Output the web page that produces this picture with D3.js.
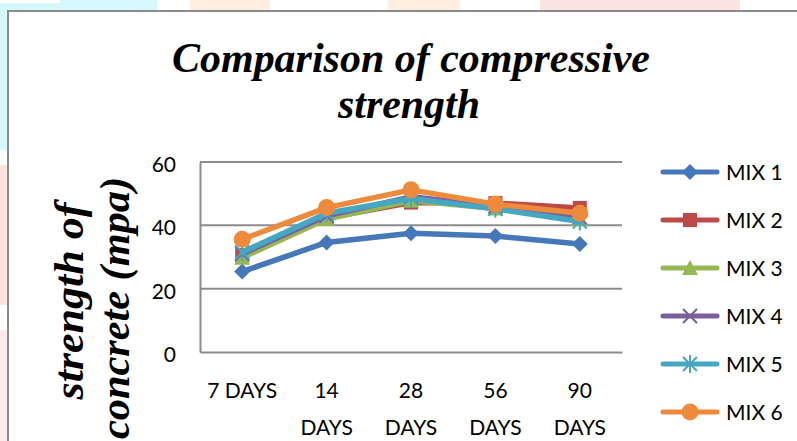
<!DOCTYPE html>
<html>
<head>
<meta charset="utf-8">
<script src="https://cdn.jsdelivr.net/npm/d3@7"></script>
<style>
  html, body { margin: 0; padding: 0; background: #fff; }
  svg { display: block; }
</style>
</head>
<body>
<svg id="chart" width="797" height="441"></svg>
<script>
// Compressive strength (MPa) by curing age for six concrete mixes
const categories = ["7 DAYS", "14 DAYS", "28 DAYS", "56 DAYS", "90 DAYS"];
const tickLines = [["7 DAYS"], ["14", "DAYS"], ["28", "DAYS"], ["56", "DAYS"], ["90", "DAYS"]];
const seriesNames = ["MIX 1", "MIX 2", "MIX 3", "MIX 4", "MIX 5", "MIX 6"];
const mix1 = [25.4, 34.6, 37.5, 36.6, 34.1];
const mix2 = [30.6, 42.3, 47.2, 47.0, 45.5];
const mix3 = [29.8, 42.0, 47.8, 45.3, 42.0];
const mix4 = [31.0, 43.0, 49.0, 46.0, 42.5];
const mix5 = [31.5, 43.8, 48.5, 45.2, 41.2];
const mix6 = [35.6, 45.6, 51.2, 46.7, 43.8];
const yTicks = [0, 20, 40, 60];

const seriesValues = [mix1, mix2, mix3, mix4, mix5, mix6];
const colors = ["#4677B8", "#BC4A47", "#96B852", "#7B5E9E", "#45A7C2", "#EE8A3C"];
const markers = ["diamond", "square", "triangle", "x", "star", "circle"];

const svg = d3.select("#chart");

// faint decorative page background around the chart frame
const bg = svg.append("g");
[
  [0, 0, 157, 11, "#d6f8fc"], [0, 0, 8, 150, "#d6f8fc"],
  [190, 0, 80, 11, "#fdeedf"], [388, 0, 72, 11, "#fdeedf"],
  [540, 0, 200, 11, "#fde3e0"], [0, 165, 8, 140, "#fde3e0"],
  [0, 330, 8, 111, "#fdeae6"]
].forEach(([x, y, w, h, c]) => bg.append("rect").attr("x", x).attr("y", y).attr("width", w).attr("height", h).attr("fill", c));
bg.append("rect").attr("x", 0).attr("y", 0).attr("width", 60).attr("height", 3).attr("fill", "#fff");

// chart frame
svg.append("rect").attr("x", 8).attr("y", 11).attr("width", 800).attr("height", 440)
  .attr("fill", "#fff").attr("stroke", "#8a8a8a").attr("stroke-width", 2);

// title
const title = svg.append("g").attr("font-family", "'Liberation Serif', 'Times New Roman', serif")
  .attr("font-weight", "bold").attr("font-style", "italic").attr("font-size", 43).attr("fill", "#000");
title.append("text").attr("x", 411).attr("y", 72).attr("text-anchor", "middle")
  .attr("textLength", 478).attr("lengthAdjust", "spacingAndGlyphs").text("Comparison of compressive");
title.append("text").attr("x", 409).attr("y", 118).attr("text-anchor", "middle")
  .attr("textLength", 142).attr("lengthAdjust", "spacingAndGlyphs").text("strength");

// y axis title
const yt = svg.append("g").attr("font-family", "'Liberation Serif', 'Times New Roman', serif")
  .attr("font-weight", "bold").attr("font-style", "italic").attr("font-size", 43).attr("fill", "#000");
yt.append("text").attr("transform", "translate(83,301) rotate(-90)").attr("text-anchor", "middle")
  .attr("textLength", 197).attr("lengthAdjust", "spacingAndGlyphs").text("strength of");
yt.append("text").attr("transform", "translate(129,308) rotate(-90)").attr("text-anchor", "middle")
  .attr("textLength", 262).attr("lengthAdjust", "spacingAndGlyphs").text("concrete  (mpa)");

// scales
const x = d3.scaleBand().domain(categories).range([200, 622]);
const y = d3.scaleLinear().domain([0, 60]).range([352, 162]);
const cx = d => x(d) + x.bandwidth() / 2;

// gridlines
svg.append("g").selectAll("line").data(yTicks.filter(t => t > 0)).join("line")
  .attr("x1", 200).attr("x2", 622).attr("y1", d => y(d)).attr("y2", d => y(d))
  .attr("stroke", "#8c8c8c").attr("stroke-width", 2);

// axes
const yAxis = svg.append("g").attr("transform", "translate(200,0)")
  .call(d3.axisLeft(y).tickValues(yTicks).tickSize(0).tickPadding(24));
yAxis.select(".domain").attr("stroke", "#8c8c8c").attr("stroke-width", 2);
yAxis.selectAll("text").attr("font-family", "Lato, 'Open Sans', sans-serif").attr("font-size", 21)
  .attr("fill", "#000").attr("dy", "0.45em");

const xAxis = svg.append("g").attr("transform", `translate(0,${y(0)})`)
  .call(d3.axisBottom(x).tickSize(0).tickFormat(() => ""));
xAxis.select(".domain").attr("stroke", "#8c8c8c").attr("stroke-width", 2);
xAxis.selectAll(".tick").each(function(d, i) {
  const t = d3.select(this).select("text").attr("y", 0).attr("dy", null)
    .attr("font-family", "Lato, 'Open Sans', sans-serif").attr("font-size", 21).attr("fill", "#000");
  tickLines[i].forEach((ln, j) => {
    t.append("tspan").attr("x", 0).attr("y", 46 + j * 37).text(ln);
  });
});

// marker shapes
function drawMarker(g, type, color, px, py) {
  if (type === "diamond") {
    g.append("path").attr("d", `M${px},${py - 8}L${px + 8},${py}L${px},${py + 8}L${px - 8},${py}Z`).attr("fill", color);
  } else if (type === "square") {
    g.append("rect").attr("x", px - 7).attr("y", py - 7).attr("width", 14).attr("height", 14).attr("fill", color);
  } else if (type === "triangle") {
    g.append("path").attr("d", `M${px},${py - 8}L${px + 8},${py + 7}L${px - 8},${py + 7}Z`).attr("fill", color);
  } else if (type === "x") {
    g.append("path").attr("d", `M${px - 7},${py - 7}L${px + 7},${py + 7}M${px + 7},${py - 7}L${px - 7},${py + 7}`)
      .attr("stroke", color).attr("stroke-width", 2);
  } else if (type === "star") {
    g.append("path").attr("d", `M${px - 7},${py - 7}L${px + 7},${py + 7}M${px + 7},${py - 7}L${px - 7},${py + 7}M${px},${py - 9}L${px},${py + 9}`)
      .attr("stroke", color).attr("stroke-width", 2);
  } else {
    g.append("circle").attr("cx", px).attr("cy", py).attr("r", 8.5).attr("fill", color);
  }
}

// series lines with markers
const line = d3.line().x((d, i) => cx(categories[i])).y(d => y(d));
seriesValues.forEach((vals, s) => {
  const g = svg.append("g");
  g.append("path").attr("d", line(vals)).attr("fill", "none").attr("stroke", colors[s])
    .attr("stroke-width", 5.5).attr("stroke-linejoin", "round").attr("stroke-linecap", "round");
  vals.forEach((v, i) => drawMarker(g, markers[s], colors[s], cx(categories[i]), y(v)));
});

// legend
const lg = svg.append("g");
seriesNames.forEach((name, s) => {
  const ly = 172 + s * 48;
  const g = lg.append("g");
  g.append("line").attr("x1", 663).attr("x2", 717).attr("y1", ly).attr("y2", ly)
    .attr("stroke", colors[s]).attr("stroke-width", 5).attr("stroke-linecap", "round");
  drawMarker(g, markers[s], colors[s], 690, ly);
  g.append("text").attr("x", 726).attr("y", ly + 8).attr("font-family", "Lato, 'Open Sans', sans-serif")
    .attr("font-size", 21).attr("fill", "#000").text(name);
});
</script>
</body>
</html>
